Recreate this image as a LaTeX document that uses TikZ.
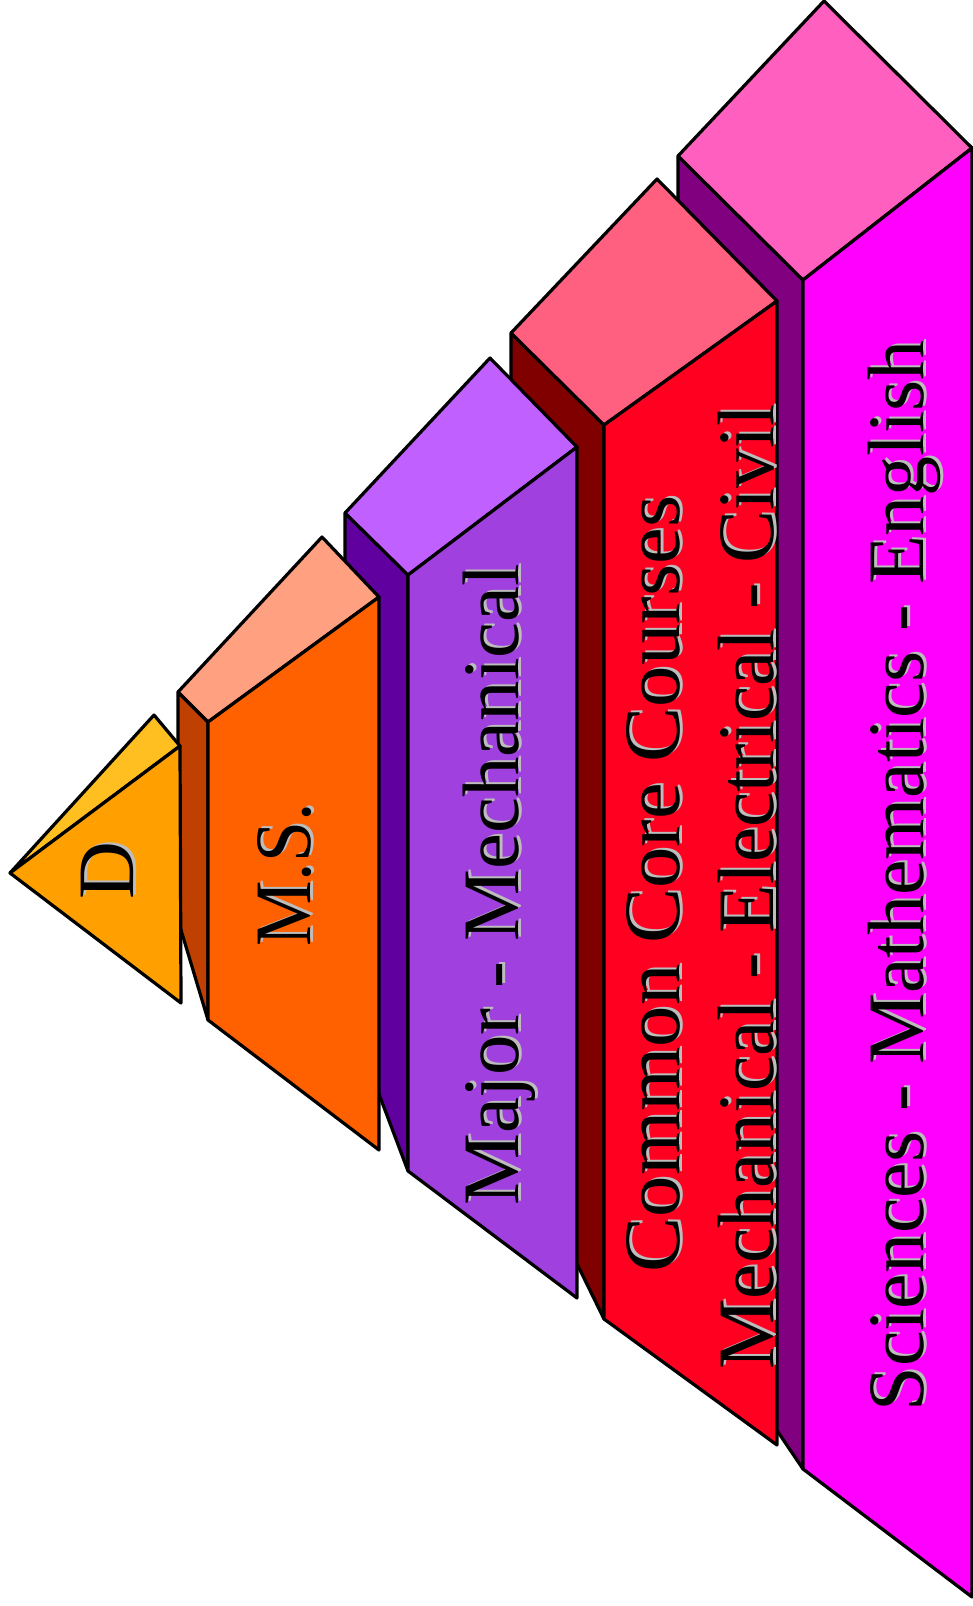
\documentclass[tikz,border=0pt]{standalone}
\usepackage{fontspec}
\setmainfont{Liberation Serif}
\definecolor{cFtop}{HTML}{FF60C0}
\definecolor{cFfront}{HTML}{FF00FF}
\definecolor{cFside}{HTML}{800080}
\definecolor{cEtop}{HTML}{FF6080}
\definecolor{cEfront}{HTML}{FF0020}
\definecolor{cEside}{HTML}{800000}
\definecolor{cCtop}{HTML}{BF60FF}
\definecolor{cCfront}{HTML}{9F40DF}
\definecolor{cCside}{HTML}{60009F}
\definecolor{cBtop}{HTML}{FFA080}
\definecolor{cBfront}{HTML}{FF6000}
\definecolor{cBside}{HTML}{BF4000}
\definecolor{cAtop}{HTML}{FFBF20}
\definecolor{cAfront}{HTML}{FFA000}
\definecolor{shadowgray}{HTML}{BDBDBD}
\begin{document}
\begin{tikzpicture}[x=1pt,y=-1pt,
  face/.style={draw=black,line width=3.2pt,line join=round},
  lbl/.style={rotate=90,anchor=base,inner sep=0pt,font=\fontsize{80}{96}\selectfont},
  shade/.style={lbl,text=shadowgray}]
\useasboundingbox (0,0) rectangle (972,1606);
% block 5 (magenta)
\filldraw[face,fill=cFside] (678,156) -- (803,280) -- (803,1469) -- (678,1284) -- cycle;
\filldraw[face,fill=cFtop] (678,156) -- (824,1) -- (972,148) -- (803,280) -- cycle;
\filldraw[face,fill=cFfront] (803,280) -- (972,148) -- (972,1597) -- (803,1469) -- cycle;
% block 4 (red)
\filldraw[face,fill=cEside] (511,333) -- (604,425) -- (604,1319) -- (511,1129) -- cycle;
\filldraw[face,fill=cEtop] (511,333) -- (657,179) -- (777,301) -- (604,425) -- cycle;
\filldraw[face,fill=cEfront] (604,425) -- (777,301) -- (777,1445) -- (604,1319) -- cycle;
% block 3 (purple)
\filldraw[face,fill=cCside] (345,513) -- (408,575) -- (408,1171) -- (345,1004) -- cycle;
\filldraw[face,fill=cCtop] (345,513) -- (490,358) -- (577,447) -- (408,575) -- cycle;
\filldraw[face,fill=cCfront] (408,575) -- (577,447) -- (577,1298) -- (408,1171) -- cycle;
% block 2 (orange)
\filldraw[face,fill=cBside] (178,692) -- (208,722) -- (208,1020) -- (178,920) -- cycle;
\filldraw[face,fill=cBtop] (178,692) -- (322,537) -- (379,597) -- (208,722) -- cycle;
\filldraw[face,fill=cBfront] (208,722) -- (379,597) -- (379,1150) -- (208,1020) -- cycle;
% block 1 (D)
\filldraw[face,fill=cAtop] (10,873) -- (154,715) -- (180,746) -- cycle;
\filldraw[face,fill=cAfront] (10,873) -- (180,746) -- (181,1003) -- cycle;
% labels
\node[shade] at (136,869) {D};
\node[lbl] (d) at (133,871) {D};
\node[shade] at (313,873) {\scalebox{0.92}[1]{M.S.}};
\node[lbl] (ms) at (310,875) {\scalebox{0.92}[1]{M.S.}};
\node[shade] at (521,883) {\scalebox{1.01}[1]{Major - Mechanical}};
\node[lbl] (major) at (518,885) {\scalebox{1.01}[1]{Major - Mechanical}};
\node[shade] at (682,882) {\scalebox{1.034}[1]{Common Core Courses}};
\node[lbl] (core) at (679,884) {\scalebox{1.034}[1]{Common Core Courses}};
\node[shade] at (776,885) {\scalebox{0.992}[1]{Mechanical - Electrical - Civil}};
\node[lbl] (eng) at (773,887) {\scalebox{0.992}[1]{Mechanical - Electrical - Civil}};
\node[shade] at (926,874) {Sciences - Mathematics - English};
\node[lbl] (sci) at (923,876) {Sciences - Mathematics - English};
\end{tikzpicture}
\end{document}
